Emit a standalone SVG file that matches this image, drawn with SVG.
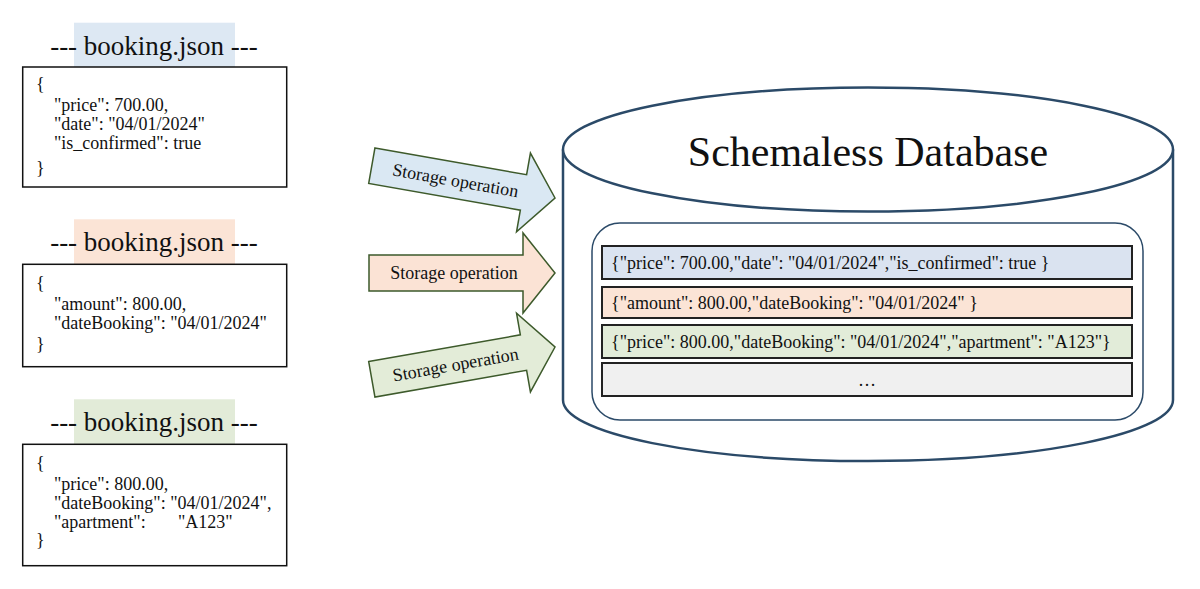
<svg xmlns="http://www.w3.org/2000/svg" width="1200" height="589" viewBox="0 0 1200 589">
<style>
text{font-family:"Liberation Serif","Times New Roman",serif;fill:#111}
.title{font-size:27px;text-anchor:middle}
.code{font-size:18px}
.box{fill:#fff;stroke:#111;stroke-width:1.5}
.arrow{stroke:#3d5a2b;stroke-width:1.5}
.lbl{font-size:18px;text-anchor:middle}
.db{fill:#fff;stroke:#2b4a68;stroke-width:2.5}
.inner{fill:#fff;stroke:#2b4a68;stroke-width:1.5}
.row{stroke:#222;stroke-width:2}
.rowtxt{font-size:18px}
</style>
<defs>
<path id="arr" d="M-186,-18 L-32,-18 L-32,-40 L0,0 L-32,40 L-32,18 L-186,18 Z"/>
</defs>

<g id="file1">
<rect x="74" y="22.7" width="161" height="44.3" fill="#dde8f3"/>
<text class="title" x="154" y="55">--- booking.json ---</text>
<rect class="box" x="22.7" y="67" width="264" height="120"/>
<text class="code" x="36" y="90">{</text>
<text class="code" x="54" y="111">"price": 700.00,</text>
<text class="code" x="54" y="130">"date": "04/01/2024"</text>
<text class="code" x="54" y="149">"is_confirmed": true</text>
<text class="code" x="36" y="174">}</text>
</g>

<g id="file2">
<rect x="74" y="219.3" width="161" height="45" fill="#fbe4d6"/>
<text class="title" x="154" y="251">--- booking.json ---</text>
<rect class="box" x="22.7" y="264.3" width="264" height="102.4"/>
<text class="code" x="36" y="289">{</text>
<text class="code" x="54" y="310">"amount": 800.00,</text>
<text class="code" x="54" y="329">"dateBooking": "04/01/2024"</text>
<text class="code" x="36" y="350">}</text>
</g>

<g id="file3">
<rect x="74" y="399.3" width="161" height="45" fill="#e2ebd8"/>
<text class="title" x="154" y="431">--- booking.json ---</text>
<rect class="box" x="22.7" y="444.3" width="264" height="121.4"/>
<text class="code" x="36" y="469">{</text>
<text class="code" x="54" y="490">"price": 800.00,</text>
<text class="code" x="54" y="509">"dateBooking": "04/01/2024",</text>
<text class="code" x="54" y="528">"apartment":<tspan x="178">"A123"</tspan></text>
<text class="code" x="36" y="546">}</text>
</g>

<g id="connectors">
<g transform="translate(555,198) rotate(10)">
<use href="#arr" class="arrow" fill="#dae8f3"/>
<text class="lbl" x="-101" y="6">Storage operation</text>
</g>
<g transform="translate(555,273)">
<use href="#arr" class="arrow" fill="#fbe3d5"/>
<text class="lbl" x="-101" y="6">Storage operation</text>
</g>
<g transform="translate(555,347) rotate(-10)">
<use href="#arr" class="arrow" fill="#e3ecd8"/>
<text class="lbl" x="-101" y="6">Storage operation</text>
</g>
</g>

<g id="database">
<path class="db" d="M563,149.5 L563,400 A305,61 0 0 0 1173,400 L1173,149.5"/>
<ellipse class="db" cx="868" cy="149.5" rx="305" ry="62"/>
<text x="868" y="166" font-size="42" text-anchor="middle">Schemaless Database</text>
<rect class="inner" x="592" y="223" width="551" height="197" rx="28" ry="28"/>
<g id="row1">
<rect class="row" x="602" y="246" width="530" height="33" fill="#dae3f0"/>
<text class="rowtxt" x="611" y="269">{"price": 700.00,"date": "04/01/2024","is_confirmed": true }</text>
</g>
<g id="row2">
<rect class="row" x="602" y="287" width="530" height="31" fill="#fbe4d6"/>
<text class="rowtxt" x="611" y="309">{"amount": 800.00,"dateBooking": "04/01/2024" }</text>
</g>
<g id="row3">
<rect class="row" x="602" y="325" width="530" height="33" fill="#e2ecd9"/>
<text class="rowtxt" x="611" y="348">{"price": 800.00,"dateBooking": "04/01/2024","apartment": "A123"}</text>
</g>
<g id="row4">
<rect class="row" x="602" y="363" width="530" height="33" fill="#f0f0f0"/>
<text class="rowtxt" x="867" y="386" text-anchor="middle">…</text>
</g>
</g>
</svg>
